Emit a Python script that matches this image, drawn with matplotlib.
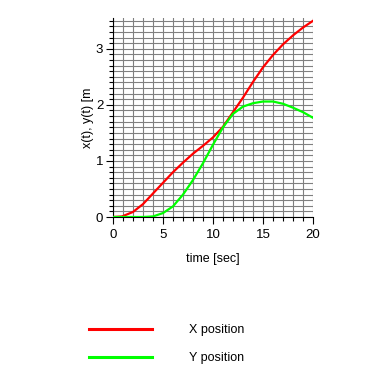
import numpy as np
from matplotlib import pyplot as plt
from matplotlib.ticker import MultipleLocator
from matplotlib.lines import Line2D

plt.rcParams['font.family'] = ['Liberation Sans', 'DejaVu Sans']

# czas [s]
t = [0, 0.9, 2, 3, 4, 5, 6, 7, 8, 9, 10, 11, 12, 13, 14, 15, 16, 17, 18, 19, 20]
# pozycja X
x_pos = [0, 0.01, 0.09, 0.23, 0.42, 0.61, 0.8, 0.97, 1.13, 1.27, 1.42, 1.61, 1.87, 2.13, 2.41, 2.67, 2.89, 3.08, 3.24, 3.38, 3.5]
# pozycja Y
y_pos = [0, 0, 0, 0, 0.01, 0.07, 0.19, 0.4, 0.66, 0.96, 1.29, 1.6, 1.84, 1.97, 2.03, 2.06, 2.06, 2.02, 1.95, 1.87, 1.77]

fig = plt.figure(figsize=(3.7, 3.7), dpi=100)
ax = fig.add_axes([113/370, 1 - 217/370, 200/370, 199/370])

ax.plot(t, x_pos, color='#ff0000', lw=1.6, label='X position', zorder=3)
ax.plot(t, y_pos, color='#00ff00', lw=1.6, label='Y position', zorder=3)

ax.set_xlim(0, 20)
ax.set_ylim(0, 3.55)
ax.xaxis.set_major_locator(MultipleLocator(5))
ax.xaxis.set_minor_locator(MultipleLocator(1))
ax.yaxis.set_major_locator(MultipleLocator(1))
ax.yaxis.set_minor_locator(MultipleLocator(0.1))
ax.grid(True, which='both', color='#808080', lw=0.8)
ax.set_axisbelow(True)
for s in ['top', 'right']:
    ax.spines[s].set_visible(False)
ax.tick_params(which='major', length=5, width=0.8, labelsize=9.5, direction='out')
ax.tick_params(axis='y', which='major', pad=2)
ax.tick_params(which='minor', length=3, width=0.8, direction='out')

ax.set_xlabel('time [sec]', fontsize=9, labelpad=9)
ax.set_ylabel('x(t), y(t) [m', fontsize=9, labelpad=1)

handles = [Line2D([], [], color='#ff0000', lw=2.2), Line2D([], [], color='#00ff00', lw=2.2)]
fig.legend(handles, ['X position', 'Y position'], loc='upper left',
           bbox_to_anchor=(78/370, 1 - 313/370), frameon=False, fontsize=9,
           handlelength=5, handletextpad=3.0, labelspacing=1.3)

plt.savefig('out.png', dpi=100)
